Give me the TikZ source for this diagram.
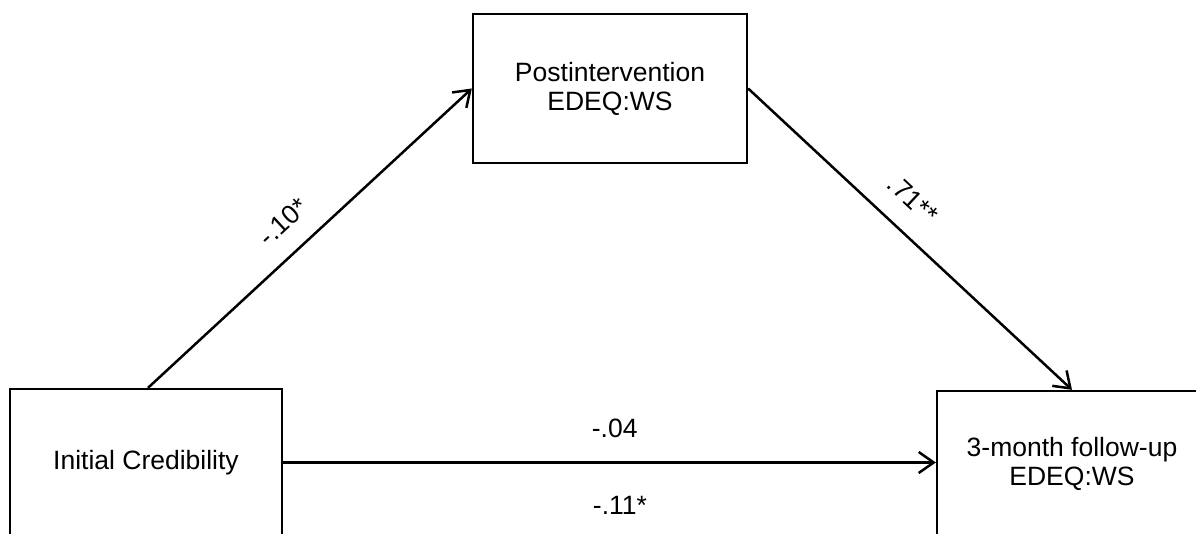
\documentclass[tikz,border=0pt]{standalone}
\usepackage{fontspec}
\setmainfont{Liberation Sans}
\usetikzlibrary{arrows.meta}
\begin{document}
\begin{tikzpicture}[x=1pt,y=1pt,
  every node/.style={font=\fontsize{26.5}{29}\selectfont},
  varbox/.style={draw=black, line width=2.3pt, align=center, inner sep=0pt},
  path/.style={draw=black, line width=2.5pt, -{Straight Barb[length=15pt,width=21pt]}},
  coef/.style={inner sep=0pt}]
\useasboundingbox[clip] (0,0) rectangle (1196,533);
\node[varbox, minimum width=272pt, minimum height=147pt] (ic) at (146,70.5) {Initial Credibility};
\node[varbox, minimum width=274pt, minimum height=149pt] (post) at (610,444.5) {Postintervention\\EDEQ:WS};
\node[varbox, minimum width=270pt, minimum height=145pt] (fu) at (1072,69.5) {3-month follow-up\\EDEQ:WS};
\coordinate (icn) at ([xshift=2pt]ic.north);
\draw[path] (icn) -- node[coef, sloped, pos=0.48, above=19.5pt] {-.10*} (post.west);
\draw[path] (post.east) -- node[coef, sloped, pos=0.444, above=20.5pt] {.71**} (fu.north);
\draw[path] (ic.east) -- node[coef, pos=0.508, above=23.5pt] {-.04}
  node[coef, pos=0.516, below=32.5pt] {-.11*} (ic.east -| fu.west);
\end{tikzpicture}
\end{document}
